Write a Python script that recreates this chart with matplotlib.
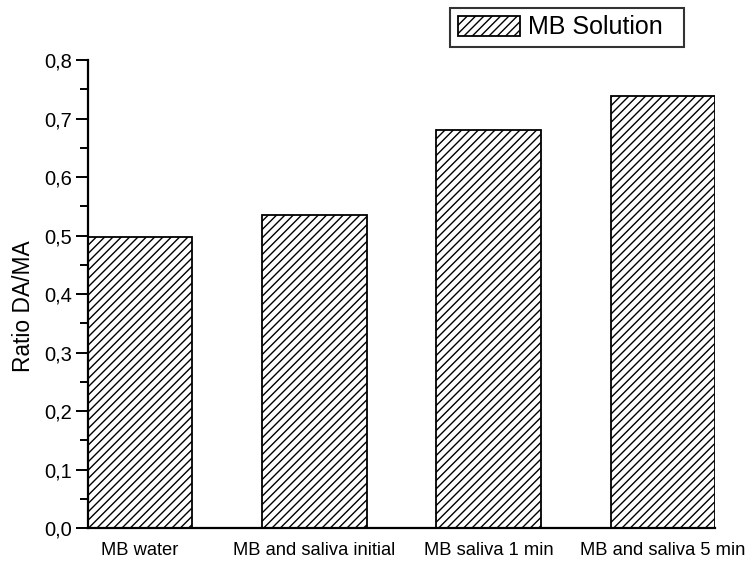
import matplotlib
matplotlib.use("Agg")
import matplotlib.pyplot as plt
from matplotlib.ticker import MultipleLocator, FuncFormatter

categories = ["MB water", "MB and saliva initial", "MB saliva 1 min", "MB and saliva 5 min"]
ratio_da_ma = [0.498, 0.535, 0.680, 0.738]
series_name = "MB Solution"

plt.rcParams["font.family"] = ["Liberation Sans", "DejaVu Sans"]
plt.rcParams["hatch.linewidth"] = 1.0
plt.rcParams["hatch.color"] = "black"

fig = plt.figure(figsize=(7.45, 5.63), dpi=100)
ax = fig.add_axes([0.118, 0.062, 0.842, 0.831])

x = list(range(len(categories)))
bars = ax.bar(x, ratio_da_ma, width=0.6, facecolor="white", edgecolor="black",
              linewidth=1.3, hatch="////", label=series_name)

ax.set_xlim(-0.3, 3.3)
ax.set_ylim(0, 0.8)
ax.yaxis.set_major_locator(MultipleLocator(0.1))
ax.yaxis.set_minor_locator(MultipleLocator(0.05))
ax.yaxis.set_major_formatter(FuncFormatter(lambda v, p: f"{v:.1f}".replace(".", ",")))

ax.set_xticks(x)
ax.set_xticklabels(categories, fontsize=13.2)
ax.tick_params(axis="x", length=0, pad=10)
ax.tick_params(axis="y", which="major", direction="out", length=9, width=1.4,
               labelsize=14.5, pad=2.5)
ax.tick_params(axis="y", which="minor", direction="out", length=5.5, width=1.4)

for side in ("top", "right"):
    ax.spines[side].set_visible(False)
for side in ("left", "bottom"):
    ax.spines[side].set_linewidth(1.6)

ax.set_ylabel("Ratio DA/MA", fontsize=16.4)
ax.yaxis.set_label_coords(-0.084, 0.474)

# legend box sits above the plot area, with extra room after the label text
leg = fig.legend(handles=[bars], labels=[series_name + "  "], loc="upper right",
                 bbox_to_anchor=(684 / 745, 1 - 8 / 563), fontsize=18,
                 frameon=True, fancybox=False, edgecolor="black",
                 handlelength=2.5, handleheight=0.9, borderpad=0.3,
                 handletextpad=0.3, borderaxespad=0)
leg.get_frame().set_linewidth(1.5)

fig.savefig("out.png", dpi=100, facecolor="white")
